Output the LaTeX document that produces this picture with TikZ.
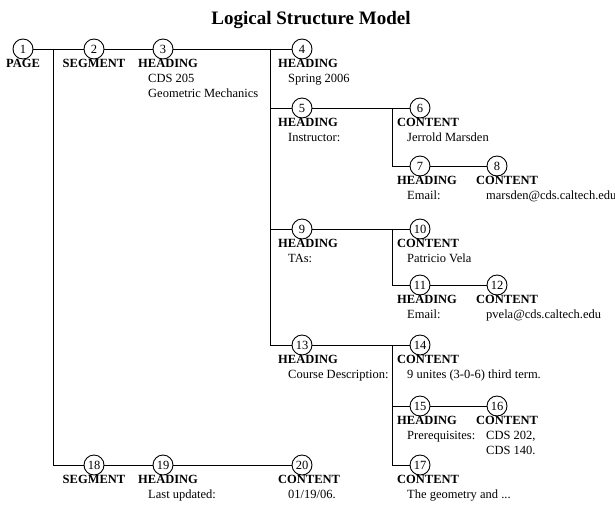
\documentclass[tikz,border=0pt]{standalone}
\usepackage{fontspec}
\setmainfont{Liberation Serif}
\usepackage{tikz}

\newcommand{\indt}{\hspace*{10pt}}

\begin{document}
\begin{tikzpicture}[x=1pt,y=-1pt,
		num/.style={circle,draw,fill=white,minimum size=20pt,inner sep=0pt,line width=0.9pt,font=\fontsize{12.5}{15}\selectfont},
		lbl/.style={anchor=north west,align=left,inner sep=0pt,font=\fontsize{12.5}{15}\selectfont},
		typ/.style={anchor=north,inner sep=0pt,font=\fontsize{12.5}{15}\selectfont\bfseries},
		wire/.style={line width=0.9pt}]
		
		\useasboundingbox (0,0) rectangle (615,504);
		
		%------------------------------------------------------
		\node[anchor=base,inner sep=0pt,font=\fontsize{19}{22}\selectfont\bfseries] (title) at (311,24) {Logical Structure Model};
		%------------------------------------------------------


		%------------------------------------------------------
		\node[num] (n1) at (23,49) {1};
		\node[num] (n2) at (94,49) {2};
		\node[num] (n3) at (163,49) {3};
		\node[num] (n4) at (302,49) {4};
		\node[num] (n5) at (302,108) {5};
		\node[num] (n6) at (420,108) {6};
		\node[num] (n7) at (420,166) {7};
		\node[num] (n8) at (497,166) {8};
		\node[num] (n9) at (302,229) {9};
		\node[num] (n10) at (420,229) {10};
		\node[num] (n11) at (420,285) {11};
		\node[num] (n12) at (497,285) {12};
		\node[num] (n13) at (302,345) {13};
		\node[num] (n14) at (420,345) {14};
		\node[num] (n15) at (420,406) {15};
		\node[num] (n16) at (497,406) {16};
		\node[num] (n17) at (420,465) {17};
		\node[num] (n18) at (94,465) {18};
		\node[num] (n19) at (163,465) {19};
		\node[num] (n20) at (302,465) {20};
		
		\coordinate (j1) at (53,49);
		\coordinate (j3) at (270,49);
		\coordinate (j5) at (392,108);
		\coordinate (j9) at (392,229);
		\coordinate (j13) at (392,345);
		%------------------------------------------------------
		

		%------------------------------------------------------
		\draw[wire] (n1) -- (n2);
		\draw[wire] (n2) -- (n3);
		\draw[wire] (n3) -- (n4);
		\draw[wire] (j1) |- (n18);
		\draw[wire] (n18) -- (n19);
		\draw[wire] (n19) -- (n20);
		
		\draw[wire] (j3) |- (n5);
		\draw[wire] (j3) |- (n9);
		\draw[wire] (j3) |- (n13);
		
		\draw[wire] (n5) -- (n6);
		\draw[wire] (j5) |- (n7);
		\draw[wire] (n7) -- (n8);
		
		\draw[wire] (n9) -- (n10);
		\draw[wire] (j9) |- (n11);
		\draw[wire] (n11) -- (n12);
		
		\draw[wire] (n13) -- (n14);
		\draw[wire] (j13) |- (n15);
		\draw[wire] (n15) -- (n16);
		\draw[wire] (j13) |- (n17);
		%------------------------------------------------------
		

		%------------------------------------------------------
		\node[typ] (l1) at ([yshift=-9.7pt]n1.center) {PAGE};
		\node[typ] (l2) at ([yshift=-9.7pt]n2.center) {SEGMENT};
		\node[lbl] (l3) at ([xshift=-25pt,yshift=-9.7pt]n3.center) {\textbf{HEADING}\\\indt CDS 205\\\indt Geometric Mechanics};
		\node[lbl] (l4) at ([xshift=-24pt,yshift=-9.7pt]n4.center) {\textbf{HEADING}\\\indt Spring 2006};
		\node[lbl] (l5) at ([xshift=-24pt,yshift=-9.7pt]n5.center) {\textbf{HEADING}\\\indt Instructor:};
		\node[lbl] (l6) at ([xshift=-23pt,yshift=-9.7pt]n6.center) {\textbf{CONTENT}\\\indt Jerrold Marsden};
		\node[lbl] (l7) at ([xshift=-23pt,yshift=-9.7pt]n7.center) {\textbf{HEADING}\\\indt Email:};
		\node[lbl] (l8) at ([xshift=-21pt,yshift=-9.7pt]n8.center) {\textbf{CONTENT}\\\indt marsden@cds.caltech.edu};
		\node[lbl] (l9) at ([xshift=-24pt,yshift=-9.7pt]n9.center) {\textbf{HEADING}\\\indt TAs:};
		\node[lbl] (l10) at ([xshift=-23pt,yshift=-9.7pt]n10.center) {\textbf{CONTENT}\\\indt Patricio Vela};
		\node[lbl] (l11) at ([xshift=-23pt,yshift=-9.7pt]n11.center) {\textbf{HEADING}\\\indt Email:};
		\node[lbl] (l12) at ([xshift=-21pt,yshift=-9.7pt]n12.center) {\textbf{CONTENT}\\\indt pvela@cds.caltech.edu};
		\node[lbl] (l13) at ([xshift=-24pt,yshift=-9.7pt]n13.center) {\textbf{HEADING}\\\indt Course Description:};
		\node[lbl] (l14) at ([xshift=-23pt,yshift=-9.7pt]n14.center) {\textbf{CONTENT}\\\indt 9 unites (3-0-6) third term.};
		\node[lbl] (l15) at ([xshift=-23pt,yshift=-9.7pt]n15.center) {\textbf{HEADING}\\\indt Prerequisites:};
		\node[lbl] (l16) at ([xshift=-21pt,yshift=-9.7pt]n16.center) {\textbf{CONTENT}\\\indt CDS 202,\\\indt CDS 140.};
		\node[lbl] (l17) at ([xshift=-23pt,yshift=-9.7pt]n17.center) {\textbf{CONTENT}\\\indt The geometry and ...};
		\node[typ] (l18) at ([yshift=-9.7pt]n18.center) {SEGMENT};
		\node[lbl] (l19) at ([xshift=-25pt,yshift=-9.7pt]n19.center) {\textbf{HEADING}\\\indt Last updated:};
		\node[lbl] (l20) at ([xshift=-24pt,yshift=-9.7pt]n20.center) {\textbf{CONTENT}\\\indt 01/19/06.};
		%------------------------------------------------------
		
	\end{tikzpicture}
\end{document}
